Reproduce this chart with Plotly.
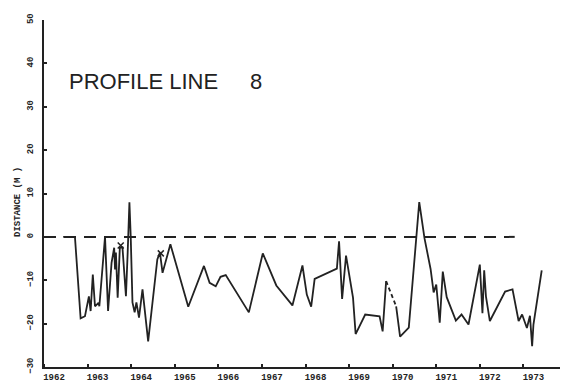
import plotly.graph_objects as go

# ---- data ----
years = [1962.44, 1962.71, 1962.84, 1962.94, 1963.03, 1963.07, 1963.12, 1963.17, 1963.25, 1963.27,
         1963.40, 1963.47, 1963.55, 1963.61, 1963.63, 1963.65, 1963.69, 1963.74, 1963.80, 1963.88,
         1963.92, 1963.96, 1963.99, 1964.03, 1964.08, 1964.12, 1964.18, 1964.26, 1964.39, 1964.60,
         1964.66, 1964.72, 1964.90, 1965.31, 1965.67, 1965.80, 1965.94, 1966.05, 1966.17, 1966.70,
         1967.02, 1967.33, 1967.70, 1967.93, 1968.03, 1968.13, 1968.21, 1968.72, 1968.77, 1968.84,
         1968.93, 1969.09, 1969.15, 1969.37, 1969.70, 1969.77, 1969.85, None, 1970.08, 1970.17,
         1970.37, 1970.61, 1970.73, 1970.87, 1970.94, 1971.00, 1971.08, 1971.15, 1971.24, 1971.45,
         1971.58, 1971.74, 1972.00, 1972.06, 1972.10, 1972.14, 1972.23, 1972.58, 1972.75, 1972.89,
         1972.97, 1973.08, 1973.15, 1973.20, 1973.23, 1973.42]
distance = [0.0, 0.0, -18.8, -18.3, -13.7, -17.1, -8.7, -16.0, -15.2, -16.0,
            0.0, -17.1, -6.0, -2.5, -7.5, -3.6, -14.0, -2.5, -2.4, -13.7,
            -3.6, 8.0, 0.0, -15.1, -17.4, -15.1, -18.6, -12.1, -24.1, -5.2,
            -3.6, -8.3, -1.7, -16.1, -6.7, -10.6, -11.4, -9.2, -8.8, -17.4,
            -3.8, -11.2, -15.8, -6.6, -13.3, -16.1, -9.7, -7.3, -1.0, -14.3,
            -4.3, -14.0, -22.4, -17.9, -18.3, -21.8, -10.2, None, -16.0, -23.0,
            -20.9, 8.0, -0.3, -7.4, -12.8, -11.0, -19.8, -8.0, -13.9, -19.3,
            -17.9, -20.2, -6.4, -17.6, -7.7, -13.7, -19.4, -12.6, -12.1, -19.4,
            -17.9, -21.0, -18.2, -25.2, -20.2, -7.7]

gap_years = [1969.85, 1970.08]
gap_distance = [-10.2, -16.0]

marker_years = [1963.76, 1964.68]
marker_distance = [-2.0, -3.8]

zero_years = [1962.0, 1972.8]
zero_distance = [0.0, 0.0]

year_ticks = list(range(1962, 1974))
year_labels = [str(y) for y in year_ticks]
y_ticks = [-30, -20, -10, 0, 10, 20, 30, 40, 50]

ink = "#222222"
tick_font = dict(family="Liberation Mono, DejaVu Sans Mono, monospace", size=9, color=ink, weight="bold")

fig = go.Figure()
fig.add_trace(go.Scatter(x=zero_years, y=zero_distance, mode="lines",
                         line=dict(color=ink, width=2, dash="12px,8px"), hoverinfo="skip"))
fig.add_trace(go.Scatter(x=years, y=distance, mode="lines", connectgaps=False,
                         line=dict(color=ink, width=1.8)))
fig.add_trace(go.Scatter(x=gap_years, y=gap_distance, mode="lines",
                         line=dict(color=ink, width=1.8, dash="4px,3px")))
fig.add_trace(go.Scatter(x=marker_years, y=marker_distance, mode="markers",
                         marker=dict(symbol="x-thin", size=6, line=dict(color=ink, width=1.5))))

# page body has an 8px margin: figure is 8px smaller and margins shifted by 8px
fig.update_layout(
    width=560, height=378, autosize=False,
    margin=dict(l=36, r=1, t=12, b=19),
    paper_bgcolor="white", plot_bgcolor="white",
    showlegend=False,
    xaxis=dict(range=[1962, 1974], showgrid=False, zeroline=False,
               showline=True, linecolor=ink, linewidth=1.5,
               tickmode="array", tickvals=[y + 0.23 for y in year_ticks], ticktext=year_labels,
               ticks="", tickfont=tick_font,
               minor=dict(tickmode="array", tickvals=year_ticks + [1974], ticks="inside",
                          ticklen=3, tickwidth=1.5, tickcolor=ink, showgrid=False)),
    yaxis=dict(range=[-30, 50], showgrid=False, zeroline=False,
               showline=True, linecolor=ink, linewidth=1.5,
               tickmode="array", tickvals=y_ticks, ticks="inside", ticklen=3,
               tickwidth=1.5, tickcolor=ink, tickangle=-90, tickfont=tick_font,
               ticklabelstandoff=6),
    annotations=[
        dict(text="PROFILE LINE", x=(67 - 44) / 523, y=(367 - 81) / 347, xref="paper", yref="paper",
             xanchor="left", yanchor="middle", showarrow=False,
             font=dict(family="Liberation Sans, Arial, sans-serif", size=22, color=ink)),
        dict(text="8", x=(248 - 44) / 523, y=(367 - 81) / 347, xref="paper", yref="paper",
             xanchor="left", yanchor="middle", showarrow=False,
             font=dict(family="Liberation Sans, Arial, sans-serif", size=22, color=ink)),
        dict(text="<b>DISTANCE (M )</b>", x=(18 - 44) / 523, y=(367 - 202) / 347,
             xref="paper", yref="paper", xanchor="center", yanchor="middle",
             textangle=-90, showarrow=False,
             font=dict(family="Liberation Mono, DejaVu Sans Mono, monospace", size=9, color=ink)),
    ],
)

fig.write_html("out.html")
